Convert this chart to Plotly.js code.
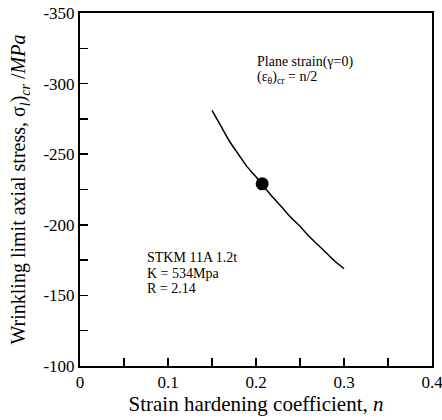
<!DOCTYPE html>
<html>
<head>
<meta charset="utf-8">
<script src="https://cdn.plot.ly/plotly-3.0.1.min.js"></script>
<style>html,body{margin:0;padding:0;background:#fff;}</style>
</head>
<body>
<div id="chart" style="width:442px;height:420px;"></div>
<script>
const curveN = [0.15, 0.16, 0.17, 0.18, 0.19, 0.2, 0.21, 0.22, 0.23, 0.24, 0.25, 0.26, 0.27, 0.28, 0.29, 0.3];
const curveStress = [-281, -270, -259, -250, -241, -234, -226, -219, -212, -205, -199, -192, -186, -180, -174, -169];
const pointN = [0.207];
const pointStress = [-229];
const xTicks = [0, 0.1, 0.2, 0.3, 0.4];
const yTicks = [-100, -150, -200, -250, -300, -350];

const serif = 'Liberation Serif, serif';

const traces = [
  {x: curveN, y: curveStress, mode: 'lines', line: {color: '#000', width: 1.5, shape: 'spline', smoothing: 0.6}, showlegend: false, hoverinfo: 'skip'},
  {x: pointN, y: pointStress, mode: 'markers', marker: {color: '#000', size: 13}, showlegend: false}
];

const layout = {
  width: 442, height: 420,
  margin: {l: 80, r: 10, t: 13, b: 54},
  paper_bgcolor: '#fff', plot_bgcolor: '#fff',
  font: {family: serif, color: '#000', size: 14},
  xaxis: {
    range: [0, 0.4], tickvals: xTicks, ticktext: xTicks.map(v => String(v)),
    ticks: 'inside', ticklen: 8, tickwidth: 1.5, tickcolor: '#000',
    minor: {dtick: 0.05, ticks: 'inside', ticklen: 8, tickwidth: 1.5, tickcolor: '#000'},
    showline: true, linecolor: '#000', linewidth: 2, mirror: true,
    showgrid: false, zeroline: false, ticklabeloverflow: 'allow',
    tickfont: {family: serif, size: 17, color: '#000'},
    title: {text: 'Strain hardening coefficient, <i>n</i>', font: {family: serif, size: 21, color: '#000'}, standoff: 2}
  },
  yaxis: {
    range: [-100, -350], tickvals: yTicks, ticktext: yTicks.map(v => String(v)),
    ticks: 'inside', ticklen: 8, tickwidth: 1.5, tickcolor: '#000',
    minor: {dtick: 25, ticks: 'inside', ticklen: 8, tickwidth: 1.5, tickcolor: '#000'},
    showline: true, linecolor: '#000', linewidth: 2, mirror: true,
    showgrid: false, zeroline: false,
    tickfont: {family: serif, size: 17, color: '#000'},
    title: {text: 'Wrinkling limit axial stress, σ<sub><i>l</i></sub>)<sub><i>cr</i></sub> /<i>MPa</i>', font: {family: serif, size: 20, color: '#000'}, standoff: 12}
  },
  annotations: [
    {xref: 'paper', yref: 'paper', x: 0.497, y: 0.861, xanchor: 'left', yanchor: 'middle', showarrow: false,
     text: 'Plane strain(γ=0)', font: {family: serif, size: 14, color: '#000'}},
    {xref: 'paper', yref: 'paper', x: 0.497, y: 0.818, xanchor: 'left', yanchor: 'middle', showarrow: false,
     text: '(ε<sub>θ</sub>)<sub>cr</sub> = n/2', font: {family: serif, size: 14, color: '#000'}},
    {xref: 'paper', yref: 'paper', x: 0.185, y: 0.306, xanchor: 'left', yanchor: 'middle', showarrow: false,
     text: 'STKM 11A 1.2t', font: {family: serif, size: 14, color: '#000'}},
    {xref: 'paper', yref: 'paper', x: 0.185, y: 0.263, xanchor: 'left', yanchor: 'middle', showarrow: false,
     text: 'K = 534Mpa', font: {family: serif, size: 14, color: '#000'}},
    {xref: 'paper', yref: 'paper', x: 0.185, y: 0.220, xanchor: 'left', yanchor: 'middle', showarrow: false,
     text: 'R = 2.14', font: {family: serif, size: 14, color: '#000'}}
  ]
};

Plotly.newPlot('chart', traces, layout, {displayModeBar: false, staticPlot: true});
</script>
</body>
</html>
